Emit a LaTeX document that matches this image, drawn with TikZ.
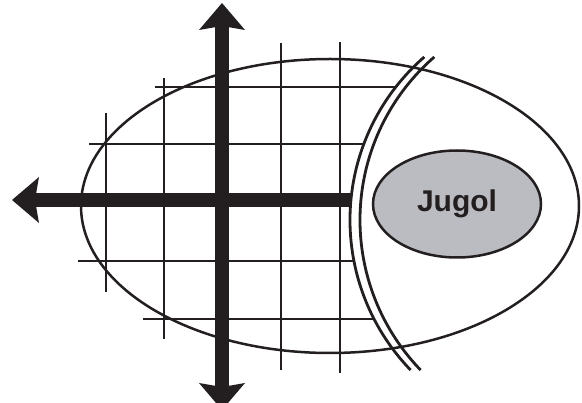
\documentclass[tikz,border=0pt]{standalone}
\usepackage{fontspec}
\usepackage{xcolor}
\usepackage{tikz}
\usetikzlibrary{arrows.meta, shapes.geometric}
\newfontfamily\labelfont{Liberation Sans}
\definecolor{ink}{RGB}{35,31,32}
\definecolor{blobgray}{RGB}{186,188,193}

\begin{document}
\begin{tikzpicture}[x=1pt, y=-1pt, ink, line width=2.8pt,
    axis/.style={line width=14pt},
    bigtip/.tip={Stealth[length=27pt, width=46pt, inset=4pt, line width=0pt]}]
  \useasboundingbox (0,0) rectangle (582,403);
  \draw[line width=2.5pt] (330,206) ellipse [x radius=249, y radius=147];

  \foreach \x/\ya/\yb in {106/113/292, 164/78/339, 281/43/370, 340/42/373} {
    \draw (\x,\ya) -- (\x,\yb);
  }
  \foreach \y/\xa/\xb in {87/155/396, 144/89/364, 261/78/354, 319/143/374} {
    \draw (\xa,\y) -- (\xb,\y);
  }

  \coordinate (up) at (222,3);
  \coordinate (down) at (222,410);
  \coordinate (west) at (12,200);
  \coordinate (east) at (351,200);
  \draw[axis, bigtip-bigtip] (down) -- (up);
  \draw[axis, -bigtip] (east) -- (west);

  \coordinate (c1) at (566,220);
  \coordinate (c2) at (576,220);
  \draw (c1) ++(229:216) arc[start angle=229, end angle=136, radius=216];
  \draw (c2) ++(229:216) arc[start angle=229, end angle=136, radius=216];

  \node[draw, ellipse, fill=blobgray, line width=2.5pt,
    minimum width=168pt, minimum height=107pt,
    font=\labelfont\bfseries\fontsize{30}{36}\selectfont] (jugol) at (457,204) {Jugol};
\end{tikzpicture}
\end{document}
